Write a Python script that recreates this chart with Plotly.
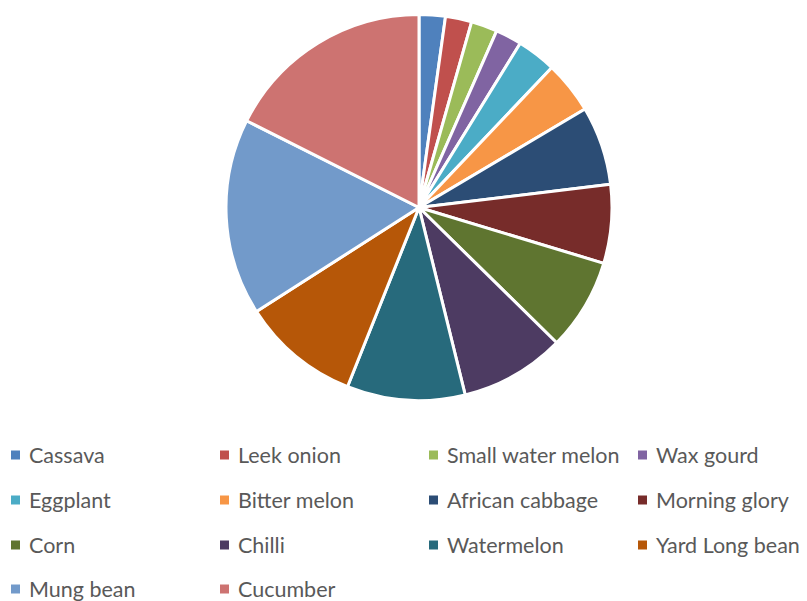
import plotly.graph_objects as go

labels = ["Cassava", "Leek onion", "Small water melon", "Wax gourd", "Eggplant",
          "Bitter melon", "African cabbage", "Morning glory", "Corn", "Chilli",
          "Watermelon", "Yard Long bean", "Mung bean", "Cucumber"]
values = [2, 2, 2, 2, 3, 4, 6, 6, 7, 8, 9, 9, 15, 16]
colors = ["#4F81BD", "#C0504D", "#9BBB59", "#8064A2", "#4BACC6", "#F79646",
          "#2C4D75", "#772C2A", "#5F7530", "#4D3B62", "#276A7C", "#B65708",
          "#729ACA", "#CD7371"]

W, H = 807, 601
OFF = 8  # page body margin offset

def px(x):
    return (x - OFF) / W

def py(y):
    return 1 - (y - OFF) / H

fig = go.Figure(go.Pie(
    labels=labels, values=values, sort=False, direction="clockwise", rotation=0,
    marker=dict(colors=colors, line=dict(color="white", width=3)),
    textinfo="none", hoverinfo="label+value+percent", showlegend=False,
    domain=dict(x=[px(226), px(612)], y=[py(400.5), py(14.5)]),
))

# legend drawn as a 4-column grid
col_x = [11, 220, 429, 638]
row_y = [455, 500, 545, 589]
shapes, annotations = [], []
for i, (lab, col) in enumerate(zip(labels, colors)):
    r, c = divmod(i, 4)
    x0, yc = col_x[c], row_y[r]
    shapes.append(dict(type="rect", xref="paper", yref="paper",
                       x0=px(x0), x1=px(x0 + 9),
                       y0=py(yc + 4.5), y1=py(yc - 4.5),
                       fillcolor=col, line=dict(width=0)))
    annotations.append(dict(text=lab, xref="paper", yref="paper",
                            x=px(x0 + 16), y=py(yc),
                            xanchor="left", yanchor="middle", showarrow=False,
                            font=dict(family="Lato", size=21.5, color="#595959")))

fig.update_layout(width=W, height=H, margin=dict(l=0, r=0, t=0, b=0),
                  paper_bgcolor="white", plot_bgcolor="white",
                  shapes=shapes, annotations=annotations)
fig.write_html("out.html")
